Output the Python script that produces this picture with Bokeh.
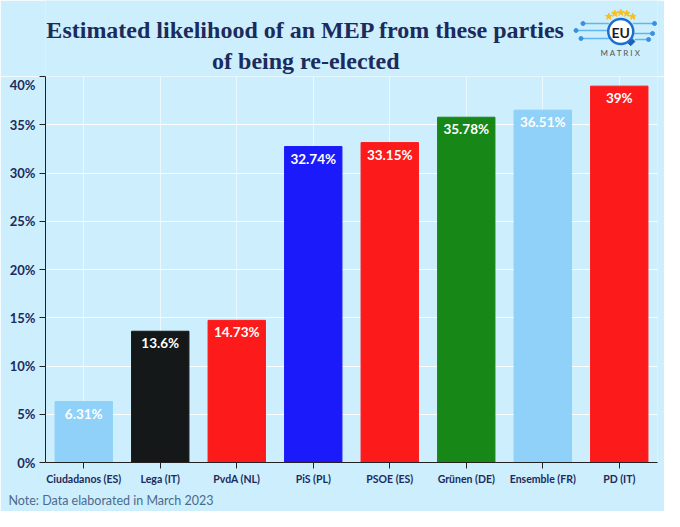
from bokeh.plotting import figure
from bokeh.layouts import column
from bokeh.models import ColumnDataSource, Title, FixedTicker, PrintfTickFormatter, Range1d
from bokeh.core.properties import value
from bokeh.embed import file_html
from bokeh.resources import INLINE

parties = ["Ciudadanos (ES)", "Lega (IT)", "PvdA (NL)", "PiS (PL)", "PSOE (ES)", "Grünen (DE)", "Ensemble (FR)", "PD (IT)"]
likelihood = [6.31, 13.6, 14.73, 32.74, 33.15, 35.78, 36.51, 39]
labels = ["6.31%", "13.6%", "14.73%", "32.74%", "33.15%", "35.78%", "36.51%", "39%"]
colors = ["#8fd1f8", "#151819", "#fc1a1a", "#1a1afa", "#fc1a1a", "#178818", "#8fd1f8", "#fc1a1a"]
y_ticks = [0, 5, 10, 15, 20, 25, 30, 35, 40]
title_lines = ["Estimated likelihood of an MEP from these parties", "of being re-elected"]
note_text = "Note: Data elaborated in March 2023"

BG = "#cdeefd"
NAVY = "#1b2b5c"
W = 664
HEAD_H = 76

# ---------- header (title + logo) ----------
# the header frame is aligned with the chart frame below it (about x 42..658 on the page)
head = figure(width=W, height=HEAD_H, x_range=Range1d(42, 658), y_range=Range1d(HEAD_H, 0),
              x_axis_type=None, y_axis_type=None, output_backend="svg", toolbar_location=None,
              min_border=0)
head.background_fill_color = BG
head.border_fill_color = BG
head.outline_line_color = None
head.xgrid.visible = False
head.ygrid.visible = False

head.text(x=[304, 304], y=[29, 60], text=title_lines, text_align="center",
          text_baseline="alphabetic", text_font=value("Liberation Serif"),
          text_font_style="bold", text_font_size="24px", text_color=NAVY)

# logo: circuit lines, ring, stars, text
LX, LY = 621, 31
head.segment(x0=[LX - 45, LX - 38, LX - 40, LX + 12, LX + 12, LX + 14],
             y0=[LY - 1, LY - 8, LY + 7, LY - 8, LY + 2, LY + 8],
             x1=[LX - 12, LX - 12, LX - 12, LX + 34, LX + 32, LX + 28],
             y1=[LY - 1, LY - 8, LY + 7, LY - 8, LY + 2, LY + 8],
             line_color="#5fb6f0", line_width=1.5)
head.scatter(x=[LX - 45, LX - 38, LX - 40, LX + 34, LX + 32, LX + 28],
             y=[LY - 1, LY - 8, LY + 7, LY - 8, LY + 2, LY + 8],
             size=4, color="#3a8fe0")
head.scatter(x=[LX + 10], y=[LY + 10], marker="square", size=6, angle=0.8, color="#1c5fb8")
head.scatter(x=[LX], y=[LY], size=25, fill_color="white", line_color="#1c6fd1", line_width=2.5)
head.scatter(x=[LX - 12, LX - 6, LX, LX + 6, LX + 12], y=[LY - 15, LY - 18, LY - 19, LY - 18, LY - 15],
             marker="star", size=7, color="#f5c020")
head.text(x=[LX], y=[LY + 1], text=["EU"], text_align="center", text_baseline="middle",
          text_font=value("Lato"), text_font_style="bold", text_font_size="14px", text_color="#1d1d1d")
head.text(x=[LX], y=[LY + 21], text=["M A T R I X"], text_align="center", text_baseline="middle",
          text_font=value("Lato"), text_font_size="8px", text_color="#555555")

# ---------- main chart ----------
src = ColumnDataSource(dict(x=parties, top=likelihood, lab=labels, color=colors))

p = figure(x_range=parties, y_range=Range1d(0, 40), width=W, height=511 - HEAD_H,
           output_backend="svg", toolbar_location=None,
           min_border_left=45, min_border_right=7, min_border_top=0, min_border_bottom=49)
p.background_fill_color = BG
p.border_fill_color = BG
p.outline_line_color = None
p.x_range.range_padding = 0

p.vbar(x="x", top="top", width=0.75, color="color", source=src)
p.text(x="x", y="top", text="lab", source=src, text_color="white", text_align="center",
       text_baseline="top", y_offset=4, text_font=value("Lato"), text_font_style="bold",
       text_font_size="13.5px")

p.yaxis.ticker = FixedTicker(ticks=y_ticks)
p.yaxis.formatter = PrintfTickFormatter(format="%d%%")
for ax in (p.xaxis[0], p.yaxis[0]):
    ax.axis_line_color = "#222222"
    ax.major_tick_line_color = "#222222"
    ax.minor_tick_line_color = None
    ax.major_tick_out = 6
    ax.major_tick_in = 0
    ax.major_label_text_color = NAVY
    ax.major_label_text_font = "Lato"
    ax.major_label_text_font_style = "bold"
p.yaxis.major_label_text_font_size = "13px"
p.xaxis.major_label_text_font_size = "10.5px"
p.xaxis.major_label_standoff = 4
p.yaxis.major_label_standoff = 4

p.xgrid.grid_line_color = "white"
p.ygrid.grid_line_color = "white"
p.xgrid.grid_line_alpha = 0.6
p.ygrid.grid_line_alpha = 0.9

note = Title(text=note_text, align="left", offset=-37, text_font="Lato",
             text_font_style="normal", text_font_size="12.5px", text_color="#4b6a8c", standoff=6)
p.add_layout(note, "below")

layout = column(head, p, spacing=0)
open("out.html", "w").write(file_html(layout, INLINE))
